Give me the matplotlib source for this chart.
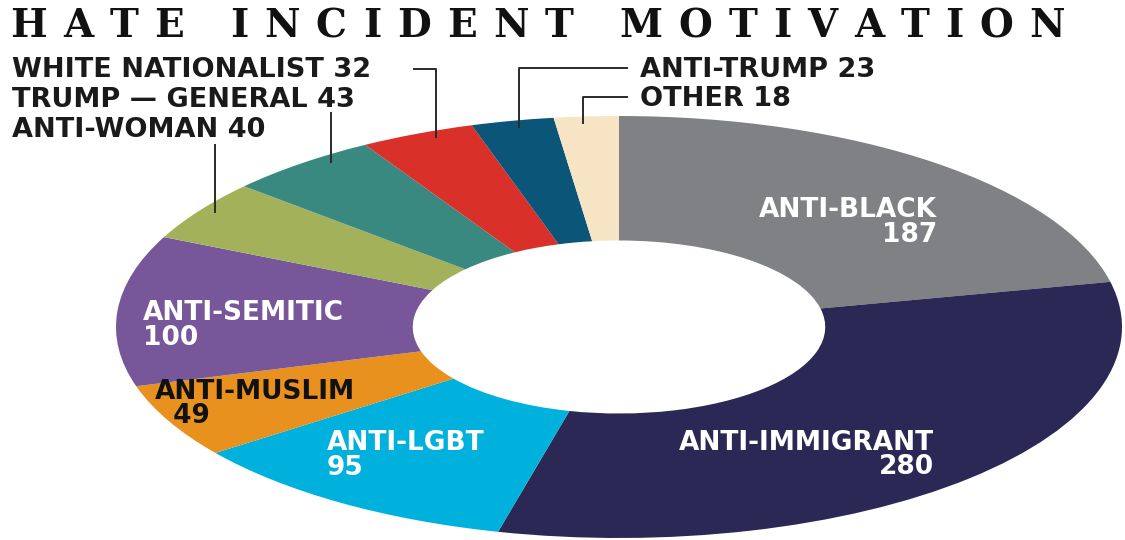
import numpy as np
import matplotlib
matplotlib.use("Agg")
import matplotlib.pyplot as plt
from matplotlib.lines import Line2D

# ---- data ----
categories = ["ANTI-BLACK", "ANTI-IMMIGRANT", "ANTI-LGBT", "ANTI-MUSLIM", "ANTI-SEMITIC",
              "ANTI-WOMAN", "TRUMP — GENERAL", "WHITE NATIONALIST", "ANTI-TRUMP", "OTHER"]
counts = [187, 280, 95, 49, 100, 40, 43, 32, 23, 18]
colors = ["#808184", "#2c2856", "#00b1dd", "#e8911f", "#775799",
          "#a3b25a", "#3a8981", "#d9312a", "#0b5578", "#f6e4c5"]
title = "HATE INCIDENT MOTIVATION"

W, H = 1125, 540
fig = plt.figure(figsize=(W / 100, H / 100), dpi=100)
fig.patch.set_facecolor("white")


def fx(px):
    return px / W


def fy(py):
    return 1 - py / H


ax = fig.add_axes([fx(116), fy(538), 1006 / W, 422 / H])
wedges, _ = ax.pie(counts, colors=colors, startangle=90, counterclock=False,
                   radius=1.0, wedgeprops=dict(width=0.59, linewidth=0))
ax.set_xlim(-1, 1)
ax.set_ylim(-1, 1)
ax.set_aspect("auto")
ax.axis("off")

# ---- title, spread across the width ----
tfont = dict(family="DejaVu Serif", weight="heavy", size=28, color="#111111")
fig.canvas.draw()
renderer = fig.canvas.get_renderer()
tmp = [fig.text(0, 0, ch, **tfont) for ch in title]
widths = [t.get_window_extent(renderer).width for t in tmp]
for t in tmp:
    t.remove()
x0, x1 = 10, 1065
gap = (x1 - x0 - sum(widths)) / (len(title) - 1)
x = x0
for ch, w in zip(title, widths):
    fig.text(fx(x), fy(37), ch, ha="left", va="baseline", **tfont)
    x += w + gap

# ---- outside labels with leader lines ----
lfont = dict(family="DejaVu Sans", weight="bold", size=19.5, color="#1a1a1a")
total = sum(counts)
cum = np.cumsum([0] + counts)


def anchor_px(i, frac, r=0.97):
    pos = (cum[i] + frac * counts[i]) / total
    ang = np.deg2rad(90 - 360 * pos)
    p = ax.transData.transform((r * np.cos(ang), r * np.sin(ang)))
    return p[0], H - p[1]


def line_px(xs, ys):
    fig.add_artist(Line2D([fx(v) for v in xs], [fy(v) for v in ys],
                          transform=fig.transFigure, color="#2a2a2a", lw=1.4))


# left side
fig.text(fx(12), fy(77), f"{categories[7]} {counts[7]}", ha="left", va="baseline", **lfont)
fig.text(fx(12), fy(107), f"{categories[6]} {counts[6]}", ha="left", va="baseline", **lfont)
fig.text(fx(12), fy(137), f"{categories[5]} {counts[5]}", ha="left", va="baseline", **lfont)
ax_, ay_ = anchor_px(7, 0.62)
line_px([414, ax_, ax_], [69, 69, ay_])
ax_, ay_ = anchor_px(6, 0.675)
line_px([ax_, ax_], [113, ay_])
ax_, ay_ = anchor_px(5, 0.54)
line_px([ax_, ax_], [145, ay_])

# right side
fig.text(fx(640), fy(77), f"{categories[8]} {counts[8]}", ha="left", va="baseline", **lfont)
fig.text(fx(640), fy(106), f"{categories[9]} {counts[9]}", ha="left", va="baseline", **lfont)
ax_, ay_ = anchor_px(8, 0.55)
line_px([627, ax_, ax_], [68, 68, ay_])
ax_, ay_ = anchor_px(9, 0.44)
line_px([627, ax_, ax_], [97, 97, ay_])

# ---- inside labels (two lines each; y = baseline of the second line) ----
ifont = dict(family="DejaVu Sans", weight="bold", size=19)
fig.text(fx(937), fy(242), f"{categories[0]}\n{counts[0]}", ha="right", va="baseline",
         multialignment="right", linespacing=0.95, color="white", **ifont)
fig.text(fx(934), fy(474), f"{categories[1]}\n{counts[1]}", ha="right", va="baseline",
         multialignment="right", linespacing=0.92, color="white", **ifont)
fig.text(fx(327), fy(475), f"{categories[2]}\n{counts[2]}", ha="left", va="baseline",
         multialignment="left", linespacing=0.95, color="white", **ifont)
fig.text(fx(155), fy(423), f"{categories[3]}\n  {counts[3]}", ha="left", va="baseline",
         multialignment="left", linespacing=0.88, color="#111111", **ifont)
fig.text(fx(143), fy(345), f"{categories[4]}\n{counts[4]}", ha="left", va="baseline",
         multialignment="left", linespacing=0.95, color="white", **ifont)

fig.savefig("out.png", dpi=100, facecolor="white")
